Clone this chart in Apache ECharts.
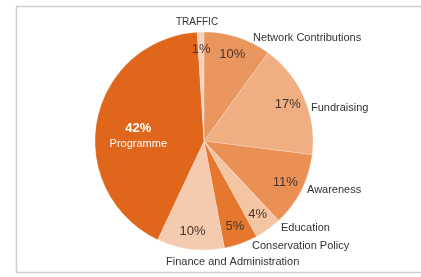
<!DOCTYPE html>
<html>
<head>
<meta charset="utf-8">
<script src="https://cdn.jsdelivr.net/npm/echarts@6/dist/echarts.min.js"></script>
<style>html,body{margin:0;padding:0;background:#fff}#c{width:421px;height:277px}</style>
</head>
<body>
<div id="c"></div>
<script>
// Data (clockwise from 12 o'clock)
const categories = ['Network Contributions','Fundraising','Awareness','Education','Conservation Policy','Finance and Administration','Programme','TRAFFIC'];
const values = [10, 17, 11, 4, 5, 10, 42, 1];
const colors = ['#E8955E','#EFAF82','#EB9055','#F3C5A2','#E5772E','#F4CBAE','#E0661C','#F6D3BA'];

const CX = 204, CY = 141, R = 109;
// name label anchors, relative to pie centre [dx, dy, align]
const nameAnchor = [[49,-103,'left'],[107,-33,'left'],[103,49,'left'],[77,87,'left'],[48,105,'left'],[-38,121,'left'],null,[-7,-119,'center']];

const chart = echarts.init(document.getElementById('c'));
const data = categories.map((n,i)=>({name:n, value:values[i], itemStyle:{color:colors[i]}}));
chart.setOption({
  animation:false,
  graphic:[{type:'rect', shape:{x:16.5,y:6.5,width:420,height:266}, style:{fill:'none', stroke:'#cfcfcf', lineWidth:1.5}}],
  series:[
    {
      type:'pie', center:[CX,CY], radius:R, startAngle:90, clockwise:true, silent:true,
      itemStyle:{borderColor:'rgba(255,255,255,0.35)', borderWidth:0.6},
      label:{show:true, position:'outside', formatter:'{b}', fontFamily:'Liberation Sans, Arial', fontSize:11, color:'#333'},
      labelLine:{show:false},
      data: data.map((d,i)=> i===6 ? Object.assign({}, d, {label:{show:false}}) : (i===7 ? Object.assign({}, d, {label:{fontSize:10}}) : d)),
      labelLayout:function(p){
        const a = nameAnchor[p.dataIndex];
        if(!a) return {};
        return {x:CX+a[0], y:CY+a[1], align:a[2], verticalAlign:'middle'};
      }
    },
    {
      type:'pie', center:[CX,CY], radius:[R*0.62,R], startAngle:90, clockwise:true, silent:true,
      itemStyle:{color:'transparent'},
      label:{show:true, position:'inside', formatter:'{d}%', fontFamily:'Liberation Sans, Arial', fontSize:13, color:'#4a3328',
        rich:{p:{fontSize:13, color:'#fff', fontWeight:'bold', lineHeight:16, align:'center'}, n:{fontSize:11, color:'#fff', lineHeight:14, align:'center'}}},
      labelLine:{show:false},
      data: categories.map((n,i)=>({name:n, value:values[i],
        label: i===6 ? {formatter:'{p|{d}%}\n{n|{b}}'} : undefined})),
      labelLayout:function(p){
        if(p.dataIndex===6) return {dx:24, dy:12};
        return {};
      }
    }
  ]
});
</script>
</body>
</html>
